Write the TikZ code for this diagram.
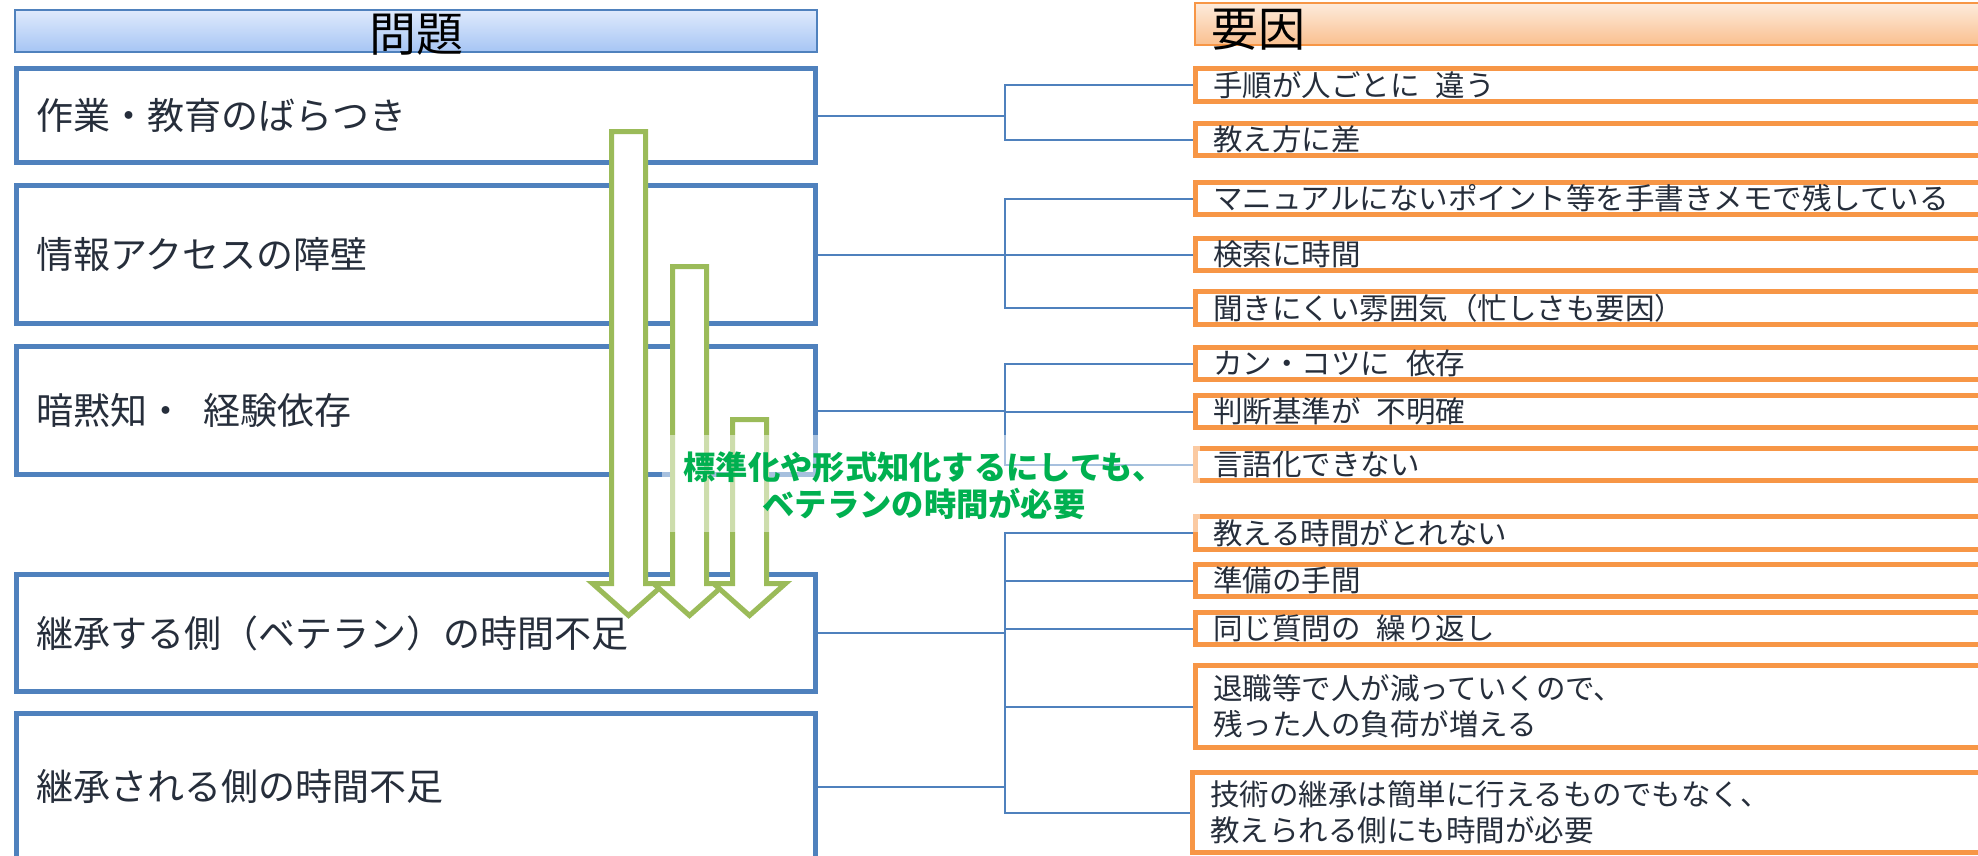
\documentclass[tikz,border=0pt]{standalone}
\usepackage{fontspec}
\setmainfont{Noto Sans CJK JP}
\definecolor{lblue}{HTML}{4F81BD}
\definecolor{orng}{HTML}{F79646}
\definecolor{agreen}{HTML}{9BBB59}
\definecolor{tgreen}{HTML}{00B050}
\definecolor{ink}{HTML}{262E3B}
\definecolor{hbtop}{HTML}{DFEAFC}
\definecolor{hbbot}{HTML}{A6C5F4}
\definecolor{hotop}{HTML}{FDEBDC}
\definecolor{hobot}{HTML}{FAC08F}
\begin{document}
\begin{tikzpicture}[x=1pt,y=-1pt,
  probbox/.style={draw=lblue, line width=5pt, fill=white, rectangle,
    inner xsep=20pt, inner ysep=0pt, text width=759pt, minimum height=#1,
    font=\fontsize{37}{44}\selectfont, text=ink, align=left},
  causebox/.style={draw=orng, line width=5pt, fill=white, rectangle,
    inner xsep=17.5pt, inner ysep=0pt, text width=769.5pt, minimum height=#1,
    font=\fontsize{29.5}{36}\selectfont, text=ink, align=left},
  headbox/.style={rectangle, line width=2pt, inner sep=0pt},
  headtext/.style={font=\fontsize{47}{50}\selectfont, text=black, inner sep=0pt},
  conn/.style={draw=lblue, line width=2pt},
  garrowst/.style={draw=agreen, fill=white, line width=5pt, line join=miter},
  fadebox/.style={rectangle, fill=white, fill opacity=0.5, draw=none, inner sep=0pt},
  gtextst/.style={font=\fontsize{32.3}{37}\selectfont\bfseries, text=tgreen, align=center, inner sep=0pt}
]
\useasboundingbox (0,0) rectangle (1978,855);

% headers
\node[headbox, draw=lblue, top color=hbtop, bottom color=hbbot, minimum width=802pt, minimum height=42pt] (hL) at (416,31) {};
\node[headtext] (hLt) at (416,35) {問題};
\node[headbox, draw=orng, top color=hotop, bottom color=hobot, minimum width=805pt, minimum height=42pt] (hR) at (1597.5,24) {};
\node[headtext, anchor=west] (hRt) at (1211,30) {要因};

% problem boxes
\node[probbox=94pt] (L1) at (416,115.5) {作業・教育のばらつき};
\node[probbox=138pt] (L2) at (416,254.5) {情報アクセスの障壁};
\node[probbox=128pt] (L3) at (416,410.5) {暗黙知・\hspace{0.5em}経験依存};
\node[probbox=117pt] (L4) at (416,633) {継承する側（ベテラン）の時間不足};
\node[probbox=146.5pt] (L5) at (416,786.75) {継承される側の時間不足};

% cause boxes
\node[causebox=33pt] (R1) at (1597.75,85) {手順が人ごとに\hspace{0.55em}違う};
\node[causebox=32pt] (R2) at (1597.75,139.5) {教え方に差};
\node[causebox=32pt] (R3) at (1597.75,198.5) {マニュアルにないポイント等を手書きメモで残している};
\node[causebox=32pt] (R4) at (1597.75,254.5) {検索に時間};
\node[causebox=33pt] (R5) at (1597.75,308) {聞きにくい雰囲気（忙しさも要因）};
\node[causebox=32pt] (R6) at (1597.75,363.5) {カン・コツに\hspace{0.55em}依存};
\node[causebox=32pt] (R7) at (1597.75,411.5) {判断基準が\hspace{0.55em}不明確};
\node[causebox=32pt] (R8) at (1597.75,464.5) {言語化できない};
\node[causebox=33pt] (R9) at (1597.75,533) {教える時間がとれない};
\node[causebox=32pt] (R10) at (1597.75,580.5) {準備の手間};
\node[causebox=32pt] (R11) at (1597.75,628.5) {同じ質問の\hspace{0.55em}繰り返し};
\node[causebox=82pt] (R12) at (1597.75,706.5) {退職等で人が減っていくので、\\残った人の負荷が増える};
\node[causebox=80pt, text width=772.5pt] (R13) at (1596.25,812.5) {技術の継承は簡単に行えるものでもなく、\\教えられる側にも時間が必要};

% connectors
\coordinate (j1) at (1005,115.5);
\coordinate (j2) at (1005,254.5);
\coordinate (j3) at (1005,410.5);
\coordinate (j4) at (1005,633);
\coordinate (j5) at (1005,786.75);
\draw[conn] (L1.east) -- (j1);
\draw[conn] (R1.west) -| (j1);
\draw[conn] (R2.west) -| (j1);
\draw[conn] (L2.east) -- (j2);
\draw[conn] (R3.west) -| (j2);
\draw[conn] (R4.west) -| (j2);
\draw[conn] (R5.west) -| (j2);
\draw[conn] (L3.east) -- (j3);
\draw[conn] (R6.west) -| (j3);
\draw[conn] (R7.west) -| (j3);
\draw[conn] (R8.west) -| (j3);
\draw[conn] (L4.east) -- (j4);
\draw[conn] (R9.west) -| (j4);
\draw[conn] (R10.west) -| (j4);
\draw[conn] (R11.west) -| (j4);
\draw[conn] (R12.west) -| (j4);
\draw[conn] (L5.east) -- (j5);
\draw[conn] (R13.west) -| (j5);
\draw[conn] (j4) -- (j5);

% green arrows
\draw[garrowst] (611.5,131.5) -- (645.5,131.5) -- (645.5,583.5) -- (664.5,583.5) -- (628.5,615.5) -- (592.5,583.5) -- (611.5,583.5) -- cycle;
\draw[garrowst] (672.5,266.5) -- (706.5,266.5) -- (706.5,583.5) -- (725.5,583.5) -- (689.5,615.5) -- (653.5,583.5) -- (672.5,583.5) -- cycle;
\draw[garrowst] (732.5,419.5) -- (766.5,419.5) -- (766.5,583.5) -- (785.5,583.5) -- (749.5,615.5) -- (713.5,583.5) -- (732.5,583.5) -- cycle;

% note
\node[fadebox, minimum width=538pt, minimum height=97pt] (fade) at (931,483.5) {};
\node[gtextst] (gtext) at (924,485.5) {標準化や形式知化するにしても、\\ベテランの時間が必要};
\end{tikzpicture}
\end{document}
